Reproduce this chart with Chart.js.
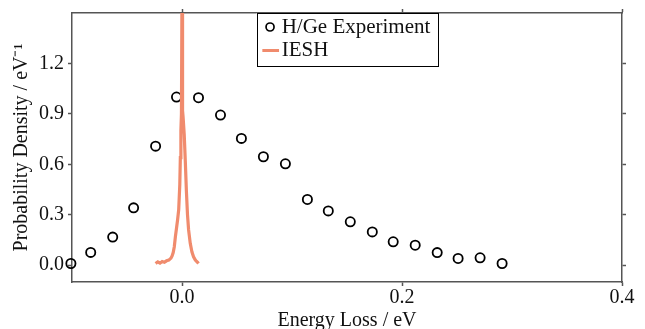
<!DOCTYPE html>
<html>
<head>
<meta charset="utf-8">
<script src="https://cdn.jsdelivr.net/npm/chart.js@4.4.0/dist/chart.umd.min.js"></script>
<style>
  html, body { margin: 0; padding: 0; background: #fff; overflow: hidden; }
  canvas { display: block; }
</style>
</head>
<body>
<canvas id="grafico" width="645" height="329"></canvas>
<script>
// Experiment (H/Ge)
const expEnergy = [-0.101, -0.083, -0.063, -0.044, -0.024, -0.005, 0.015, 0.035, 0.054, 0.074,
  0.094, 0.114, 0.133, 0.153, 0.173, 0.192, 0.212, 0.232, 0.251, 0.271, 0.291];
const expDensity = [0.010, 0.076, 0.167, 0.341, 0.708, 1.000, 0.996, 0.893, 0.754, 0.645,
  0.603, 0.391, 0.323, 0.258, 0.198, 0.139, 0.119, 0.075, 0.040, 0.044, 0.010];

// IESH curve (sharp peak at zero)
const ieshEnergy = [-0.024, -0.022, -0.020, -0.018, -0.016, -0.014, -0.012, -0.011, -0.010, -0.009,
  -0.008, -0.007, -0.006, -0.005, -0.004, -0.003, -0.002, -0.0015, -0.001, -0.0005,
  0.0, 0.0005, 0.001, 0.002, 0.003, 0.004, 0.005, 0.006, 0.0075,
  0.009, 0.0105, 0.012, 0.013, 0.014, 0.015];
const ieshDensity = [0.010, 0.020, 0.012, 0.022, 0.018, 0.026, 0.030, 0.036, 0.042, 0.055,
  0.075, 0.110, 0.170, 0.220, 0.270, 0.330, 0.480, 0.640, 0.800, 0.900,
  1.650, 0.920, 0.880, 0.780, 0.620, 0.440, 0.300, 0.210, 0.130,
  0.080, 0.050, 0.032, 0.024, 0.018, 0.010];

const xTicks = [0.0, 0.2, 0.4];
const yTicks = [0.0, 0.3, 0.6, 0.9, 1.2];

const FONT = "'Liberation Serif', 'Times New Roman', serif";
const frameColor = '#555';
const textColor = '#111';
const ieshColor = '#f08b6d';

function pontos(xs, ys) {
  return xs.map((x, i) => ({ x: x, y: ys[i] }));
}

function eixo(pos, min, max, ticks, mostrarRotulos, tamanho, extra) {
  const base = {
    type: 'linear',
    position: pos,
    min: min,
    max: max,
    afterBuildTicks: s => { s.ticks = ticks.map(v => ({ value: v })); },
    // tamanho fixo do eixo e sem padding extra dos rotulos
    afterFit: s => {
      if (s.isHorizontal()) s.height = tamanho; else s.width = tamanho;
      s.paddingTop = 0; s.paddingBottom = 0; s.paddingLeft = 0; s.paddingRight = 0;
    },
    ticks: {
      display: mostrarRotulos,
      font: { family: FONT, size: 20 },
      color: textColor,
      padding: pos === 'left' ? 4 : 0,
      maxRotation: 0,
      callback: v => Number(v).toFixed(1)
    },
    grid: {
      drawOnChartArea: false,
      drawTicks: true,
      tickLength: 4,
      tickWidth: 1.5,
      color: frameColor
    },
    border: { display: true, color: frameColor, width: 1.5 }
  };
  return Object.assign(base, extra);
}

// legenda com moldura, dentro da area do grafico
const legendaBox = {
  id: 'legendaBox',
  afterDatasetsDraw(chart) {
    const ctx = chart.ctx;
    const area = chart.chartArea;
    const labels = chart.data.datasets.map(d => d.label);
    ctx.save();
    ctx.font = '21px ' + FONT;
    const textW = Math.max(...labels.map(l => ctx.measureText(l).width));
    const w = 25 + textW + 7;
    const h = 53;
    const left = (area.left + area.right) / 2 - w / 2;
    const top = area.top;
    ctx.fillStyle = '#fff';
    ctx.fillRect(left, top, w, h);
    ctx.strokeStyle = '#000';
    ctx.lineWidth = 1;
    ctx.strokeRect(Math.round(left) + 0.5, Math.round(top) + 0.5, Math.round(w), Math.round(h));

    const row1 = top + 14;
    const row2 = top + 37.5;
    // marcador circulo
    ctx.beginPath();
    ctx.arc(left + 13.4, row1, 4, 0, Math.PI * 2);
    ctx.strokeStyle = '#000';
    ctx.lineWidth = 1.7;
    ctx.stroke();
    // linha IESH
    ctx.beginPath();
    ctx.moveTo(left + 5.7, row2);
    ctx.lineTo(left + 22.4, row2);
    ctx.strokeStyle = ieshColor;
    ctx.lineWidth = 3;
    ctx.stroke();

    ctx.fillStyle = textColor;
    ctx.textBaseline = 'middle';
    ctx.textAlign = 'left';
    labels.forEach((l, i) => ctx.fillText(l, left + 25, i === 0 ? row1 : row2));
    ctx.restore();
  }
};

new Chart(document.getElementById('grafico'), {
  type: 'scatter',
  data: {
    datasets: [
      {
        label: 'H/Ge Experiment',
        data: pontos(expEnergy, expDensity),
        pointStyle: 'circle',
        pointRadius: 4.6,
        pointBorderWidth: 1.8,
        pointBackgroundColor: 'rgba(0,0,0,0)',
        pointBorderColor: '#000',
        showLine: false,
        clip: false,
        order: 1
      },
      {
        label: 'IESH',
        data: pontos(ieshEnergy, ieshDensity),
        showLine: true,
        borderColor: ieshColor,
        borderWidth: 3.2,
        pointRadius: 0,
        tension: 0,
        clip: 0,
        order: 0
      }
    ]
  },
  options: {
    responsive: false,
    animation: false,
    layout: { padding: 0 },
    plugins: {
      legend: { display: false },
      tooltip: { enabled: false }
    },
    scales: {
      x: eixo('bottom', -0.1, 0.4, xTicks, true, 47, {
        title: {
          display: true,
          text: 'Energy Loss / eV',
          color: textColor,
          font: { family: FONT, size: 20, lineHeight: 0.875 },
          padding: 0
        }
      }),
      x2: eixo('top', -0.1, 0.4, xTicks, false, 13, {}),
      y: eixo('left', -0.1, 1.5, yTicks, true, 72, {
        title: {
          display: true,
          text: 'Probability Density / eV\u207B\u00B9',
          color: textColor,
          font: { family: FONT, size: 20 },
          padding: { top: 10, bottom: 0 }
        }
      }),
      y2: eixo('right', -0.1, 1.5, yTicks, false, 23, {})
    }
  },
  plugins: [legendaBox]
});
</script>
</body>
</html>
